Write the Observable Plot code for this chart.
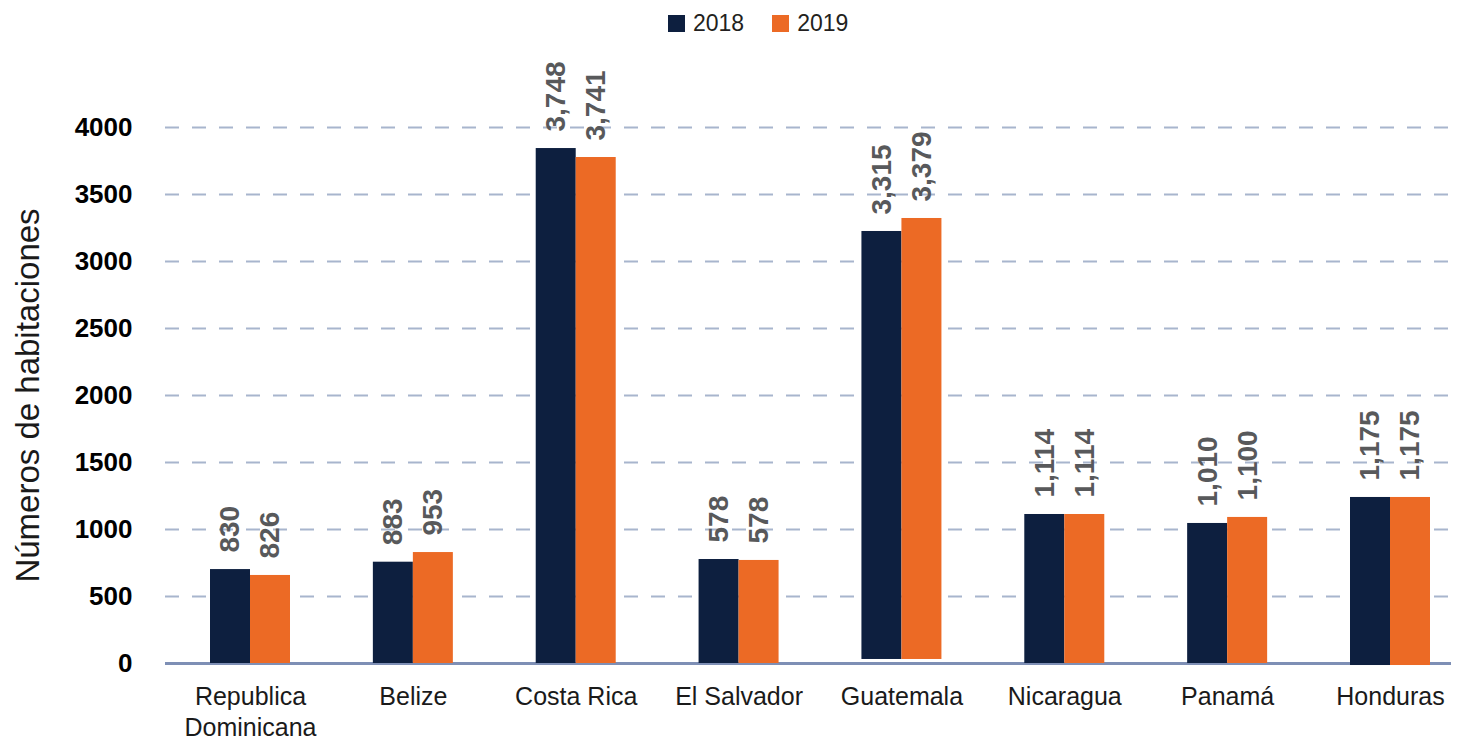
<!DOCTYPE html>
<html><head><meta charset="utf-8">
<script src="https://cdn.jsdelivr.net/npm/d3@7"></script>
<script src="https://cdn.jsdelivr.net/npm/@observablehq/plot@0.6"></script>
<style>
body{margin:0;background:#fff;font-family:"Liberation Sans",Arial,Helvetica,sans-serif;}
#wrap{position:relative;width:1461px;height:741px;}
#legend{position:absolute;top:12px;left:668px;height:23px;display:flex;align-items:center;font-size:23px;line-height:23px;color:#231f20;z-index:2;}
.sw{width:17px;height:17px;margin-right:8px;}
.item{display:flex;align-items:center;margin-right:28px;}
</style></head><body><div id="wrap"><div id="legend"></div></div>
<script>
const countries = ["Republica\nDominicana", "Belize", "Costa Rica", "El Salvador", "Guatemala", "Nicaragua", "Panamá", "Honduras"];
const years = ["2018", "2019"];
const colors = ["#0d1f3f", "#ec6a25"];
// bar tops / bases as drawn in the picture
const bar2018 = [701, 756, 3843, 776, 3224, 1112, 1045, 1239];
const bar2019 = [657, 828, 3776, 769, 3321, 1112, 1090, 1239];
const base2018 = [0, 0, 0, 0, 30, 0, 0, -15];
const base2019 = [0, 0, 0, 0, 30, 0, 0, -15];
// printed data labels
const label2018 = ["830", "883", "3,748", "578", "3,315", "1,114", "1,010", "1,175"];
const label2019 = ["826", "953", "3,741", "578", "3,379", "1,114", "1,100", "1,175"];
const yTicks = [0, 500, 1000, 1500, 2000, 2500, 3000, 3500, 4000];
const gridTicks = [500, 1000, 1500, 2000, 2500, 3000, 3500, 4000];
const yTitle = "Números de habitaciones";

const rows2018 = countries.map((c, i) => ({country: c, year: years[0], base: base2018[i], value: bar2018[i], label: label2018[i]}));
const rows2019 = countries.map((c, i) => ({country: c, year: years[1], base: base2019[i], value: bar2019[i], label: label2019[i]}));

const font = "'Liberation Sans', Arial, Helvetica, sans-serif";
const chart = Plot.plot({
  width: 1461, height: 741,
  marginTop: 127, marginBottom: 78, marginLeft: 165, marginRight: 10,
  style: {fontFamily: font, color: "#000", background: "#fff", overflow: "visible"},
  x: {domain: countries, range: [210, 1430], paddingInner: 0.5088, paddingOuter: 0, round: false, axis: null},
  y: {domain: [0, 4000]},
  marks: [
    Plot.ruleY(gridTicks, {stroke: "#a8b5cd", strokeWidth: 2, strokeDasharray: "14,13"}),
    Plot.ruleY([0], {stroke: "#7e8fb5", strokeWidth: 3}),
    Plot.barY(rows2018, {x: "country", y1: "base", y2: "value", fill: colors[0], insetRight: 40}),
    Plot.barY(rows2019, {x: "country", y1: "base", y2: "value", fill: colors[1], insetLeft: 40}),
    Plot.text(rows2018, {x: "country", y: "value", text: "label", dx: -20, dy: -17, rotate: -90, textAnchor: "start", lineAnchor: "middle", fontSize: 28, fontWeight: "bold", fill: "#58595b"}),
    Plot.text(rows2019, {x: "country", y: "value", text: "label", dx: 20, dy: -17, rotate: -90, textAnchor: "start", lineAnchor: "middle", fontSize: 28, fontWeight: "bold", fill: "#58595b"}),
    Plot.axisY({ticks: yTicks, tickSize: 0, tickPadding: 33, fontSize: 26, fontWeight: "bold", tickFormat: d3.format("d"), label: null}),
    Plot.text(countries, {x: d => d, text: d => d, frameAnchor: "bottom", dy: 19, lineAnchor: "top", lineHeight: 1.26, fontSize: 25, fill: "#1a1a1a"}),
    Plot.text([yTitle], {text: d => d, frameAnchor: "left", dx: -137, rotate: -90, fontSize: 33, textAnchor: "middle", lineAnchor: "middle", fill: "#1a1a1a"})
  ]
});
const wrap = document.getElementById("wrap");
wrap.appendChild(chart);
const legend = document.getElementById("legend");
years.forEach((y, i) => {
  const item = document.createElement("div");
  item.className = "item";
  const sw = document.createElement("div");
  sw.className = "sw";
  sw.style.background = colors[i];
  const t = document.createElement("span");
  t.textContent = y;
  item.appendChild(sw); item.appendChild(t);
  legend.appendChild(item);
});
</script></body></html>
